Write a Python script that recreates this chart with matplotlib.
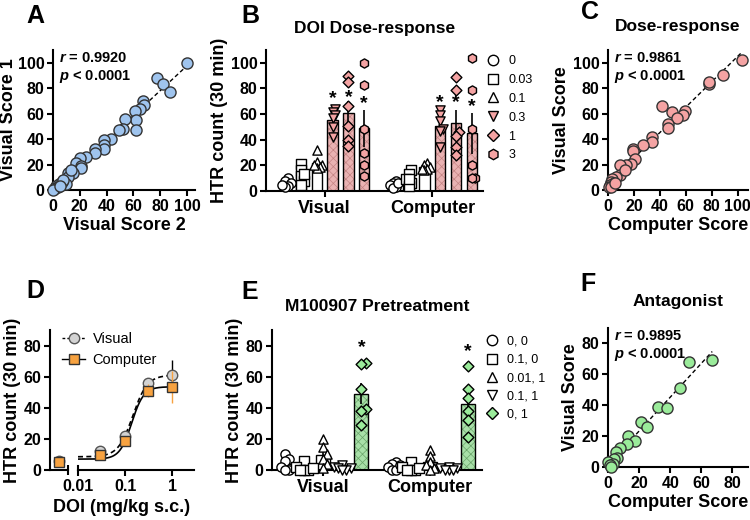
import numpy as np
import matplotlib
matplotlib.use("Agg")
import matplotlib.pyplot as plt
from matplotlib.lines import Line2D

plt.rcParams['font.family'] = ['Liberation Sans', 'DejaVu Sans']
plt.rcParams['font.weight'] = 'bold'
plt.rcParams['axes.labelweight'] = 'bold'
plt.rcParams['mathtext.fontset'] = 'custom'
plt.rcParams['mathtext.it'] = 'Liberation Sans:italic:bold'
plt.rcParams['mathtext.rm'] = 'Liberation Sans:bold'
plt.rcParams['axes.linewidth'] = 1.5
plt.rcParams['hatch.linewidth'] = 0.5
plt.rcParams['xtick.major.width'] = 1.5
plt.rcParams['ytick.major.width'] = 1.5
plt.rcParams['xtick.major.size'] = 4
plt.rcParams['ytick.major.size'] = 4
plt.rcParams['xtick.major.pad'] = 2.5
plt.rcParams['ytick.major.pad'] = 2
plt.rcParams['xtick.labelsize'] = 11.5
plt.rcParams['ytick.labelsize'] = 11.5
plt.rcParams['axes.labelpad'] = 2

# ---- data ----
# A: visual score 2 (x) vs visual score 1 (y)
a_x = [100, 78, 82, 87, 67, 68, 65, 61, 62, 62, 54, 52, 49, 43, 38, 38, 38, 31, 31, 25,
       20, 17, 21, 21, 15, 11, 11, 9.5, 6.6, 4.6, 2.5, 0.8, 1.8, 3.8, 7.6, 13.5, 0, 5]
a_y = [100, 88, 83, 77, 70, 67, 64, 62, 55, 47, 55.5, 48, 47, 40, 39, 35, 32, 32, 29, 26,
       25, 21.5, 19, 17, 13.6, 13, 10.5, 4.7, 6, 4.7, 3, 0.5, 1.8, 2.6, 7.8, 15.7, 0, 3]
a_r = "0.9920"

# B: DOI dose-response, HTR counts per animal
b_doses = ['0', '0.03', '0.1', '0.3', '1', '3']
b_visual = [[10, 8, 6, 4, 3, 5],
            [21, 16, 12, 8, 5, 13],
            [32, 23, 20, 19, 18, 20],
            [64, 62, 59, 57, 50, 42],
            [90, 85, 66, 51, 40, 35],
            [100, 83, 48, 30, 20, 12]]
b_computer = [[8, 6, 5, 3, 2, 6],
              [16, 13, 9, 6, 4, 9],
              [22, 20, 19, 17, 16, 17],
              [63, 59, 55, 48, 47, 34],
              [89, 79, 46, 43, 34, 28],
              [104, 79, 48, 20, 10, 10]]
b_sig = [False, False, False, True, True, True]
b_star_visual = [72, 73, 68]
b_star_computer = [69, 69, 66]

# C: computer score (x) vs visual score (y)
c_x = [103, 88.5, 78, 78, 42, 49.5, 59.6, 58, 53, 46, 46.6, 33.6, 34, 27, 19.5, 19.5, 20.5,
       17.5, 13.5, 9, 9.6, 13, 6, 3, 2.3, 4.4, 1.3, 0.5, 2.6, 5.7]
c_y = [102, 90, 83, 84.5, 66, 61, 62.3, 59, 56.6, 52, 49, 41.5, 37.7, 35, 32.5, 30.6, 24,
       20.8, 19.5, 19.5, 11.7, 15.6, 10.4, 9, 6.5, 5.7, 3.9, 2, 2.6, 5.2]
c_r = "0.9861"

# D: dose-response curves (means of B, doses 0..1)
d_doses = [0.03, 0.1, 0.3, 1]
d_fit_visual = dict(bottom=8.5, top=61, ec50=0.145, hill=2.8)
d_fit_computer = dict(bottom=7, top=53.5, ec50=0.138, hill=3.4)

# E: M100907 pretreatment
e_groups = ['0, 0', '0.1, 0', '0.01, 1', '0.1, 1', '0, 1']
e_visual = [[10, 7, 6, 2, 0, 0],
            [6, 2, 0, 0, 1, 0],
            [20, 15, 10, 7, 4, 1],
            [3, 2, 1, 1, 0, 0],
            [69, 68, 52, 39, 38, 29]]
e_computer = [[5, 4, 2, 0, 0, 3],
              [5, 2, 0, 0, 0, 1],
              [13, 9, 5, 3, 1, 0],
              [2, 1, 1, 0, 0, 0],
              [67, 52, 46, 38, 32, 21]]
e_sig = [False, False, False, False, True]

# F: antagonist, computer (x) vs visual (y)
f_x = [52, 67, 46, 32, 38, 21, 25, 13, 17.5, 12, 8, 5, 6, 4, 0, 3, 1, 2]
f_y = [68, 69, 51, 39, 38, 29, 26, 20, 17, 15, 12, 10, 6, 5, 3, 2, 1, 0]
f_r = "0.9895"

blue = '#9fc4ee'
pink = '#f4a3a3'
pink_bar = '#e9b2b2'
green = '#9aeb9a'
green_bar = '#a8dfa8'
grey = '#d3d3d3'
orange = '#f7a240'

W, H = 750, 520
fig = plt.figure(figsize=(7.5, 5.2), dpi=100)


def box(l, r, t, b):
    return [l / W, (H - b) / H, (r - l) / W, (b - t) / H]


def style(ax):
    for s in ['top', 'right']:
        ax.spines[s].set_visible(False)


def swarm(vals, dy, dx):
    vals = np.asarray(vals, float)
    offs = np.zeros(len(vals))
    placed = []
    for i in np.argsort(vals):
        for cand in [0, dx, -dx, 2 * dx, -2 * dx]:
            if all(abs(vals[i] - pv) >= dy or abs(cand - po) >= dx * 0.9 for pv, po in placed):
                offs[i] = cand
                break
        placed.append((vals[i], offs[i]))
    return offs


def scatter_panel(ax, x, y, color, r, xmax, ymax, ticks):
    style(ax)
    ax.scatter(x, y, s=64, facecolor=color, edgecolor='#333333', linewidth=1, zorder=3, clip_on=False)
    k, b = np.polyfit(x, y, 1)
    xx = np.array([min(x), max(x)])
    ax.plot(xx, k * xx + b, color='black', ls=(0, (3, 2)), lw=1, zorder=2)
    ax.set_xlim(0, xmax)
    ax.set_ylim(0, ymax)
    ax.set_xticks(ticks)
    ax.set_yticks(ticks)
    ax.text(0.04, 0.99, "$r$ = " + r + "\n$p$ < 0.0001", transform=ax.transAxes,
            va='top', ha='left', fontsize=10.5, fontweight='bold', linespacing=1.2)


def bars(ax, x0, groups, markers, faces, barface, hatched, hatch_col, width, dy, dx, stars):
    si = 0
    for i, vals in enumerate(groups):
        x = x0[i]
        m = np.mean(vals)
        sem = np.std(vals, ddof=1) / np.sqrt(len(vals))
        if hatched[i]:
            ax.bar(x, m, width=width, color=barface, hatch='xxxx', edgecolor=hatch_col,
                   linewidth=0, zorder=1)
            ax.bar(x, m, width=width, facecolor='none', edgecolor='black', linewidth=1, zorder=2)
        else:
            ax.bar(x, m, width=width, facecolor='white', edgecolor='black', linewidth=1, zorder=2)
        ax.errorbar(x, m, yerr=sem, fmt='none', ecolor='black', elinewidth=1.2, capsize=0, zorder=3)
        size = 30 if markers[i] == 'D' else 44
        ax.scatter(x + swarm(vals, dy, dx), vals, s=size, marker=markers[i],
                   facecolor=faces[i] if hatched[i] else 'white',
                   edgecolor='black', linewidth=1, zorder=4, clip_on=False)
        if stars is not None and hatched[i] and stars[si] is not None:
            ax.text(x, stars[si], '*', ha='center', va='center', fontsize=14, fontweight='bold')
            si += 1


# ---------- A ----------
axA = fig.add_axes(box(53, 195, 50, 190))
scatter_panel(axA, a_x, a_y, blue, a_r, 106, 110, [0, 20, 40, 60, 80, 100])
axA.set_xlabel('Visual Score 2', fontsize=13)
axA.set_ylabel('Visual Score 1', fontsize=13)
axA.yaxis.set_label_coords(-0.255, 0.5)

# ---------- B ----------
axB = fig.add_axes(box(266, 483, 50, 191))
style(axB)
b_markers = ['o', 's', '^', 'v', 'D', 'h']
b_faces = ['white', 'white', 'white', pink, pink, pink]
b_hatched = b_sig
xv = np.arange(6)
xc = np.arange(6) + 6.8
bars(axB, xv, b_visual, b_markers, b_faces, pink_bar, b_hatched, '#c48484', 0.65, 4, 0.18, b_star_visual)
bars(axB, xc, b_computer, b_markers, b_faces, pink_bar, b_hatched, '#c48484', 0.65, 4, 0.18, b_star_computer)
axB.set_xlim(-1.2, 12.5)
axB.set_ylim(0, 110)
axB.set_yticks([0, 20, 40, 60, 80, 100])
axB.set_xticks([xv.mean(), xc.mean()])
axB.set_xticklabels(['Visual', 'Computer'], fontsize=13)
axB.set_ylabel('HTR count (30 min)', fontsize=13)
axB.set_title('DOI Dose-response', fontsize=12.5, fontweight='bold', pad=12)
hB = [Line2D([], [], ls='none', marker=b_markers[i], ms=6.5 if b_markers[i] == 'D' else 7.5,
             mfc=b_faces[i], mec='black', mew=1) for i in range(6)]
axB.legend(hB, b_doses, loc='upper left', bbox_to_anchor=(0.99, 1.0), frameon=False,
           prop={'weight': 'normal', 'size': 9}, handletextpad=0.6, labelspacing=0.55,
           borderaxespad=0, handlelength=1.2)

# ---------- C ----------
axC = fig.add_axes(box(608, 748, 50, 190))
scatter_panel(axC, c_x, c_y, pink, c_r, 108, 110, [0, 20, 40, 60, 80, 100])
axC.set_xlabel('Computer Score', fontsize=13)
axC.set_ylabel('Visual Score', fontsize=13)
axC.set_title('Dose-response', fontsize=12.5, fontweight='bold', pad=14)

# ---------- D ----------
axD0 = fig.add_axes(box(50, 68, 330, 470))
axD = fig.add_axes(box(78, 194, 330, 470))
style(axD0)
style(axD)
axD.spines['left'].set_visible(False)
vis_m = [np.mean(v) for v in b_visual]
vis_s = [np.std(v, ddof=1) / np.sqrt(len(v)) for v in b_visual]
com_m = [np.mean(v) for v in b_computer]
com_s = [np.std(v, ddof=1) / np.sqrt(len(v)) for v in b_computer]

axD0.errorbar([0.5], vis_m[0], yerr=vis_s[0], fmt='o', ms=7.5, mfc=grey, mec='#555555', mew=1,
              ecolor='black', elinewidth=1, capsize=0, zorder=3, clip_on=False)
axD0.errorbar([0.5], com_m[0], yerr=com_s[0], fmt='s', ms=7.5, mfc=orange, mec='#333333', mew=1,
              ecolor=orange, elinewidth=1, capsize=0, zorder=4, clip_on=False)
axD0.set_xlim(0, 1)
axD0.set_ylim(0, 90)
axD0.set_yticks([0, 20, 40, 60, 80])
axD0.set_xticks([1])
axD0.set_xticklabels([''])
axD0.tick_params(axis='x', direction='inout', length=7)
axD0.set_ylabel('HTR count (30 min)', fontsize=13)

xx = np.logspace(-2, 0, 200)


def logistic(x, bottom, top, ec50, hill):
    return bottom + (top - bottom) / (1 + (ec50 / x) ** hill)


axD.plot(xx, logistic(xx, **d_fit_visual), color='black', ls=(0, (3, 2)), lw=1.2, zorder=2)
axD.plot(xx, logistic(xx, **d_fit_computer), color='black', ls='-', lw=1.2, zorder=2)
axD.errorbar(d_doses, vis_m[1:5], yerr=vis_s[1:5], fmt='o', ms=7.5, mfc=grey, mec='#555555',
             mew=1, ecolor='black', elinewidth=1, capsize=0, zorder=3)
axD.errorbar(d_doses, com_m[1:5], yerr=com_s[1:5], fmt='s', ms=7.5, mfc=orange, mec='#333333',
             mew=1, ecolor=orange, elinewidth=1, capsize=0, zorder=4)
axD.set_xscale('log')
axD.set_xlim(0.01, 2.9)
axD.set_ylim(0, 90)
axD.set_yticks([])
axD.set_xticks([0.01, 0.1, 1])
axD.set_xticklabels(['0.01', '0.1', '1'])
axD.xaxis.set_minor_locator(matplotlib.ticker.NullLocator())
axD.axvline(0.01, ymin=0, ymax=0.03, color='black', lw=1.5, clip_on=False)
fig.text(122 / W, 1 - 508 / H, 'DOI (mg/kg s.c.)', ha='center', va='center', fontsize=13,
         fontweight='bold')
hD = [Line2D([], [], color='black', ls=(0, (2, 1.5)), lw=1, marker='o', ms=7.5, mfc=grey,
             mec='#555555'),
      Line2D([], [], color='black', ls='-', lw=1, marker='s', ms=7.5, mfc=orange, mec='#333333')]
fig.legend(hD, ['Visual', 'Computer'], loc='upper left', bbox_to_anchor=(56 / W, 1 - 326 / H),
           frameon=False, prop={'weight': 'normal', 'size': 10.5}, handlelength=1.6,
           handletextpad=0.5, labelspacing=0.5, borderaxespad=0)

# ---------- E ----------
axE = fig.add_axes(box(272, 482, 330, 470))
style(axE)
e_markers = ['o', 's', '^', 'v', 'D']
e_faces = ['white', 'white', 'white', 'white', green]
ev = np.arange(5)
ec = np.arange(5) + 5.6
e_star_visual = [np.max(e_visual[4]) + 10]
e_star_computer = [np.max(e_computer[4]) + 9]
bars(axE, ev, e_visual, e_markers, e_faces, green_bar, e_sig, '#6aa46a', 0.75, 3.5, 0.22, e_star_visual)
bars(axE, ec, e_computer, e_markers, e_faces, green_bar, e_sig, '#6aa46a', 0.75, 3.5, 0.22, e_star_computer)
axE.set_xlim(-0.7, 10.35)
axE.set_ylim(0, 90)
axE.set_yticks([0, 20, 40, 60, 80])
axE.set_xticks([ev.mean(), ec.mean()])
axE.set_xticklabels(['Visual', 'Computer'], fontsize=13)
axE.set_ylabel('HTR count (30 min)', fontsize=13)
axE.set_title('M100907 Pretreatment', fontsize=12.5, fontweight='bold', pad=14)
hE = [Line2D([], [], ls='none', marker=e_markers[i], ms=6.5 if e_markers[i] == 'D' else 7.5,
             mfc=e_faces[i], mec='black', mew=1) for i in range(5)]
axE.legend(hE, e_groups, loc='upper left', bbox_to_anchor=(0.99, 0.995), frameon=False,
           prop={'weight': 'normal', 'size': 9}, handletextpad=0.6, labelspacing=0.5,
           borderaxespad=0, handlelength=1.2)

# ---------- F ----------
axF = fig.add_axes(box(608, 748, 328, 467))
scatter_panel(axF, f_x, f_y, green, f_r, 90, 90, [0, 20, 40, 60, 80])
axF.set_xlabel('Computer Score', fontsize=13)
axF.set_ylabel('Visual Score', fontsize=13)
axF.set_title('Antagonist', fontsize=12.5, fontweight='bold', pad=16)

# panel letters
for lab, px, py in [('A', 35, 16), ('B', 250, 16), ('C', 590, 12),
                    ('D', 35, 291), ('E', 250, 292), ('F', 588, 284)]:
    fig.text(px / W, 1 - py / H, lab, ha='center', va='center', fontsize=18, fontweight='bold')

fig.savefig('out.png', dpi=100)
